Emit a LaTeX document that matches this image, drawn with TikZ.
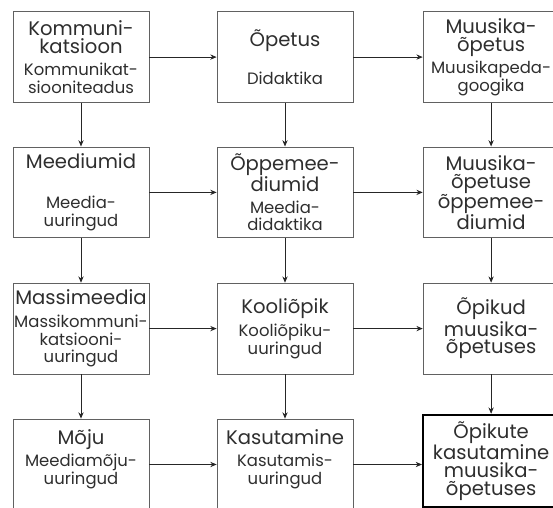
\documentclass[tikz,border=0pt]{standalone}
\usepackage{fontspec}
\setmainfont{Poppins}
\usetikzlibrary{arrows.meta}
\newcommand{\ttl}{\fontsize{18.6}{17}\selectfont}
\newcommand{\sbt}{\fontsize{15.6}{17}\selectfont}

\begin{document}
\begin{tikzpicture}[box/.style = {draw=black!62, line width=0.8pt, minimum width=4.53cm, minimum height=3.03cm, inner sep=1pt, align=center, font=\ttl, text=black!82}, arr/.style = {->, draw=black!85, line width=0.8pt}, >={Stealth[length=6pt,width=5pt]}]
    \useasboundingbox (0,0) rectangle (18.433,16.933);

    \node[box] (k1) at (2.7,15.03) {Kommuni-\\katsioon\\[0.12cm]{\sbt Kommunikat-}\\{\sbt siooniteadus}};
    \node[box] (k2) at (9.5,15.03) {Õpetus\\[0.65cm]{\sbt Didaktika}};
    \node[box] (k3) at (16.37,15.03) {Muusika-\\õpetus\\[0.12cm]{\sbt Muusikapeda-}\\{\sbt googika}};

    \node[box] (m1) at (2.7,10.52) {Meediumid\\[0.75cm]{\sbt Meedia-}\\{\sbt uuringud}};
    \node[box] (m2) at (9.5,10.52) {Õppemee-\\diumid\\[0.12cm]{\sbt Meedia-}\\{\sbt didaktika}};
    \node[box] (m3) at (16.37,10.52) {Muusika-\\õpetuse\\õppemee-\\diumid};

    \node[box] (s1) at (2.7,5.98) {Massimeedia\\[0.15cm]{\sbt\makebox[4cm]{Massikommuni-}}\\{\sbt katsiooni-}\\{\sbt uuringud}};
    \node[box] (s2) at (9.5,5.98) {Kooliõpik\\[0.15cm]{\sbt Kooliõpiku-}\\{\sbt uuringud}};
    \node[box] (s3) at (16.37,5.98) {Õpikud\\muusika-\\õpetuses};

    \node[box, text depth=0.5cm] (t1) at (2.7,1.45) {Mõju\\[0.12cm]{\sbt Meediamõju-}\\{\sbt uuringud}};
    \node[box, text depth=0.5cm] (t2) at (9.5,1.45) {Kasutamine\\[0.12cm]{\sbt Kasutamis-}\\{\sbt uuringud}};
    \node[box, draw=black, line width=2.2pt, minimum height=3.07cm] (t3) at (16.37,1.567) {Õpikute\\kasutamine\\muusika-\\õpetuses};

\draw[arr] (k1) -- (k2);
\draw[arr] (k2) -- (k3);
\draw[arr] (m1) -- (m2);
\draw[arr] (m2) -- (m3);
\draw[arr] (s1) -- (s2);
\draw[arr] (s2) -- (s3);
\draw[arr] (t1) -- (t2);
\draw[arr] (t2.east) -- (t2.east -| t3.west);

\draw[arr] (k1) -- (m1);
\draw[arr] (m1) -- (s1);
\draw[arr] (s1) -- (t1);
\draw[arr] (k2) -- (m2);
\draw[arr] (m2) -- (s2);
\draw[arr] (s2) -- (t2);
\draw[arr] (k3) -- (m3);
\draw[arr] (m3) -- (s3);
\draw[arr] (s3) -- (t3);
\end{tikzpicture}
\end{document}
